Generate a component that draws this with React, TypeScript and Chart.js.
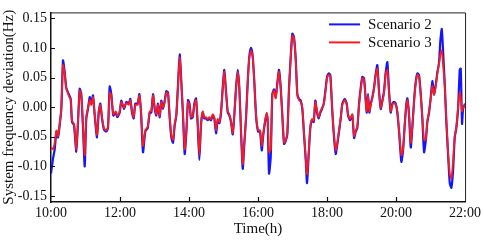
import React, { useEffect, useRef } from "react";
import { Chart, registerables } from "chart.js";

Chart.register(...registerables);

const times = [
  10.0, 10.058, 10.107, 10.159, 10.203, 10.252, 10.299, 10.348, 10.397, 10.443,
  10.513, 10.571, 10.609, 10.667, 10.733, 10.783, 10.832, 10.878, 10.928, 10.977,
  11.023, 11.072, 11.122, 11.168, 11.217, 11.267, 11.333, 11.383, 11.429, 11.478,
  11.536, 11.603, 11.652, 11.701, 11.748, 11.806, 11.875, 11.922, 11.991, 12.038,
  12.116, 12.183, 12.252, 12.299, 12.348, 12.397, 12.443, 12.513, 12.559, 12.609,
  12.667, 12.733, 12.803, 12.861, 12.907, 12.957, 13.006, 13.052, 13.101, 13.151,
  13.197, 13.246, 13.296, 13.342, 13.391, 13.441, 13.487, 13.536, 13.586, 13.632,
  13.681, 13.73, 13.777, 13.826, 13.875, 13.922, 13.971, 14.014, 14.058, 14.107,
  14.154, 14.203, 14.252, 14.299, 14.348, 14.397, 14.443, 14.493, 14.542, 14.588,
  14.638, 14.687, 14.733, 14.783, 14.832, 14.878, 14.928, 14.977, 15.023, 15.072,
  15.122, 15.168, 15.217, 15.267, 15.313, 15.362, 15.412, 15.458, 15.507, 15.557,
  15.603, 15.652, 15.701, 15.748, 15.797, 15.846, 15.893, 15.942, 16.0, 16.058,
  16.107, 16.154, 16.203, 16.252, 16.281, 16.319, 16.368, 16.414, 16.464, 16.513,
  16.559, 16.609, 16.658, 16.704, 16.754, 16.803, 16.849, 16.899, 16.948, 16.994,
  17.043, 17.093, 17.139, 17.188, 17.238, 17.284, 17.333, 17.383, 17.42, 17.47,
  17.516, 17.565, 17.614, 17.661, 17.71, 17.759, 17.806, 17.855, 17.904, 17.951,
  18.0, 18.049, 18.096, 18.154, 18.203, 18.252, 18.299, 18.348, 18.397, 18.443,
  18.513, 18.571, 18.609, 18.667, 18.733, 18.783, 18.832, 18.878, 18.928, 18.977,
  19.023, 19.072, 19.122, 19.151, 19.188, 19.226, 19.267, 19.313, 19.362, 19.412,
  19.458, 19.507, 19.557, 19.603, 19.652, 19.701, 19.748, 19.797, 19.846, 19.893,
  19.942, 19.991, 20.038, 20.087, 20.154, 20.203, 20.252, 20.299, 20.328, 20.377,
  20.426, 20.472, 20.522, 20.571, 20.617, 20.667, 20.716, 20.762, 20.812, 20.861,
  20.907, 20.957, 21.006, 21.052, 21.101, 21.151, 21.197, 21.246, 21.284, 21.325,
  21.362, 21.412, 21.458, 21.507, 21.557, 21.603, 21.652, 21.701, 21.748, 21.797,
  21.846, 21.875, 21.913, 21.942, 22.0,
];

const scenario3 = [
  -0.068, -0.071, -0.06, -0.039, -0.049, -0.028, -0.001, 0.071, 0.057, 0.031,
  0.02, 0.012, -0.023, -0.028, -0.071, -0.023, 0.028, 0.02, -0.033, -0.081,
  -0.017, -0.001, 0.012, 0.004, 0.017, -0.012, -0.047, -0.007, 0.004, -0.017,
  -0.036, -0.039, -0.033, 0.025, 0.02, -0.012, -0.007, -0.015, -0.007, 0.009,
  -0.001, 0.007, 0.004, 0.012, -0.007, -0.017, 0.004, 0.004, 0.02, -0.007,
  -0.065, -0.039, -0.033, -0.007, -0.007, 0.02, -0.001, -0.012, 0.004, -0.015,
  0.009, -0.001, 0.009, 0.025, 0.023, -0.017, -0.049, -0.055, -0.028, -0.012,
  0.036, 0.084, 0.041, -0.012, -0.071, -0.041, 0.009, 0.004, -0.017, -0.015,
  0.004, 0.012, -0.028, -0.081, -0.028, -0.007, -0.017, -0.017, -0.02, -0.017,
  -0.02, -0.012, -0.017, -0.039, -0.02, -0.025, -0.007, 0.031, 0.06, 0.025,
  -0.007, -0.012, -0.023, -0.044, -0.012, 0.031, 0.06, 0.031, -0.039, -0.096,
  -0.06, -0.017, 0.041, 0.084, 0.096, 0.084, 0.041, -0.012, -0.039, -0.039,
  -0.065, -0.044, -0.023, -0.009, -0.023, -0.076, -0.071, 0.02, 0.028, 0.015,
  0.039, 0.06, 0.031, -0.012, -0.06, -0.055, -0.044, 0.031, 0.084, 0.121,
  0.116, 0.079, 0.02, 0.012, 0.009, -0.001, -0.044, -0.087, -0.113, -0.076,
  -0.033, -0.02, -0.023, 0.009, -0.007, -0.017, -0.007, -0.001, 0.004, 0.025,
  0.049, 0.055, 0.052, -0.007, -0.049, -0.073, -0.06, -0.039, -0.017, 0.004,
  0.012, 0.004, -0.012, -0.02, -0.012, -0.049, -0.039, -0.033, 0.004, 0.031,
  0.049, 0.047, 0.009, -0.007, 0.02, -0.007, 0.004, 0.015, 0.031, 0.055,
  0.065, 0.025, -0.001, 0.009, 0.025, 0.057, 0.063, 0.025, -0.007, 0.004,
  0.007, 0.004, -0.007, -0.039, -0.081, -0.071, -0.028, 0.004, 0.012, -0.012,
  -0.06, -0.033, 0.009, 0.041, 0.055, 0.052, 0.02, -0.017, -0.055, -0.055,
  -0.023, -0.007, 0.015, 0.036, 0.02, 0.036, 0.057, 0.073, 0.089, 0.096,
  0.073, 0.036, -0.023, -0.076, -0.113, -0.12, -0.092, -0.049, -0.033, -0.001,
  0.025, 0.015, -0.007, -0.001, 0.004,
];

const scenario2 = [
  -0.112, -0.087, -0.071, -0.041, -0.051, -0.03, -0.003, 0.079, 0.059, 0.033,
  0.022, 0.014, -0.025, -0.03, -0.075, -0.025, 0.031, 0.022, -0.035, -0.1,
  -0.019, -0.003, 0.017, 0.006, 0.02, -0.014, -0.051, -0.009, 0.006, -0.019,
  -0.038, -0.041, -0.035, 0.035, 0.022, -0.014, -0.009, -0.017, -0.009, 0.011,
  -0.003, 0.009, 0.006, 0.014, -0.009, -0.019, 0.006, 0.006, 0.022, -0.009,
  -0.076, -0.041, -0.035, -0.009, -0.009, 0.022, -0.003, -0.014, 0.006, -0.017,
  0.011, -0.003, 0.011, 0.027, 0.025, -0.019, -0.051, -0.06, -0.03, -0.014,
  0.038, 0.089, 0.043, -0.014, -0.079, -0.043, 0.012, 0.006, -0.019, -0.017,
  0.006, 0.015, -0.03, -0.089, -0.03, -0.009, -0.019, -0.019, -0.022, -0.019,
  -0.022, -0.014, -0.019, -0.044, -0.022, -0.027, -0.009, 0.033, 0.063, 0.027,
  -0.009, -0.014, -0.025, -0.046, -0.014, 0.033, 0.063, 0.033, -0.041, -0.104,
  -0.062, -0.019, 0.043, 0.086, 0.1, 0.086, 0.043, -0.014, -0.041, -0.041,
  -0.073, -0.046, -0.025, -0.011, -0.025, -0.112, -0.084, 0.022, 0.03, 0.017,
  0.041, 0.063, 0.033, -0.014, -0.062, -0.057, -0.046, 0.033, 0.086, 0.124,
  0.118, 0.081, 0.022, 0.014, 0.011, -0.003, -0.046, -0.089, -0.128, -0.078,
  -0.035, -0.022, -0.025, 0.011, -0.009, -0.019, -0.009, -0.003, 0.006, 0.027,
  0.051, 0.057, 0.054, -0.009, -0.051, -0.079, -0.062, -0.041, -0.019, 0.006,
  0.014, 0.006, -0.014, -0.022, -0.014, -0.052, -0.041, -0.035, 0.006, 0.033,
  0.051, 0.049, 0.011, -0.009, 0.022, -0.009, 0.006, 0.017, 0.033, 0.057,
  0.071, 0.027, -0.003, 0.011, 0.027, 0.059, 0.076, 0.027, -0.009, 0.006,
  0.009, 0.006, -0.009, -0.041, -0.092, -0.073, -0.03, 0.006, 0.015, -0.014,
  -0.068, -0.035, 0.011, 0.043, 0.057, 0.054, 0.022, -0.019, -0.076, -0.057,
  -0.025, -0.009, 0.017, 0.044, 0.022, 0.038, 0.059, 0.075, 0.112, 0.132,
  0.096, 0.038, -0.025, -0.078, -0.128, -0.136, -0.108, -0.051, -0.035, -0.003,
  0.063, 0.065, -0.028, -0.003, 0.006,
];

const yTicks = [-0.15, -0.1, -0.05, 0.0, 0.05, 0.1, 0.15];
const xTicks = [10, 12, 14, 16, 18, 20, 22];
const seriesLabels = ["Scenario 2", "Scenario 3"];
const seriesColors = ["#1414ff", "#ff1a1a"];

const FONT = "'Liberation Serif', 'Times New Roman', serif";

const framePlugin = {
  id: "frame",
  afterDatasetsDraw(chart: any) {
    const { ctx, chartArea } = chart;
    const { left, right, top, bottom } = chartArea;
    const xs = chart.scales.x;
    const ys = chart.scales.y;
    ctx.save();
    ctx.strokeStyle = "#222";
    ctx.lineWidth = 1;
    ctx.beginPath();
    ctx.moveTo(left, top + 0.5);
    ctx.lineTo(right + 0.5, top + 0.5);
    ctx.lineTo(right + 0.5, bottom);
    ctx.stroke();
    ctx.lineWidth = 1.2;
    ctx.strokeStyle = "#111";
    ctx.beginPath();
    ys.ticks.forEach((t: any) => {
      const py = Math.round(ys.getPixelForValue(t.value)) + 0.5;
      ctx.moveTo(left, py);
      ctx.lineTo(left + 4, py);
    });
    xs.ticks.forEach((t: any) => {
      const px = Math.round(xs.getPixelForValue(t.value)) + 0.5;
      if (px <= left + 1 || px >= right - 1) return;
      ctx.moveTo(px, bottom);
      ctx.lineTo(px, bottom - 5);
    });
    ctx.stroke();

    // legend inside the plot area
    const lx0 = right - 136;
    const lx1 = right - 105;
    const tx = right - 97;
    const rows = [top + 12, top + 30];
    ctx.font = `15px ${FONT}`;
    ctx.textBaseline = "middle";
    ctx.textAlign = "left";
    chart.data.datasets.forEach((ds: any, i: number) => {
      ctx.strokeStyle = ds.borderColor;
      ctx.lineWidth = 2;
      ctx.beginPath();
      ctx.moveTo(lx0, rows[i]);
      ctx.lineTo(lx1, rows[i]);
      ctx.stroke();
      ctx.fillStyle = "#111";
      ctx.fillText(ds.label, tx, rows[i] + 1);
    });
    ctx.restore();
  },
};

export default function App() {
  const ref = useRef<HTMLCanvasElement | null>(null);
  useEffect(() => {
    document.body.style.margin = "0";
    if (!ref.current) return;
    const chart = new Chart(ref.current, {
      type: "line",
      data: {
        datasets: [
          {
            label: seriesLabels[0],
            data: times.map((t, i) => ({ x: t, y: scenario2[i] })),
            borderColor: seriesColors[0],
            borderWidth: 2.2,
            pointRadius: 0,
            tension: 0.2,
            order: 1,
          },
          {
            label: seriesLabels[1],
            data: times.map((t, i) => ({ x: t, y: scenario3[i] })),
            borderColor: seriesColors[1],
            borderWidth: 1.8,
            pointRadius: 0,
            tension: 0.2,
            order: 0,
          },
        ],
      },
      options: {
        animation: false,
        responsive: false,
        maintainAspectRatio: false,
        layout: { padding: { top: 3, right: 18, left: 0, bottom: 0 } },
        plugins: { legend: { display: false }, tooltip: { enabled: false } },
        scales: {
          x: {
            type: "linear",
            min: 10,
            max: 22,
            afterBuildTicks: (s: any) => {
              s.ticks = xTicks.map((v) => ({ value: v }));
            },
            afterFit: (s: any) => {
              s.height = 38;
            },
            grid: { display: false, drawTicks: false },
            border: { display: true, color: "#111", width: 1.5 },
            ticks: {
              color: "#111",
              font: { family: FONT, size: 14 },
              padding: 3,
              maxRotation: 0,
              callback: (v: any) => `${v}:00`,
            },
            title: {
              display: true,
              text: "Time(h)",
              color: "#111",
              font: { family: FONT, size: 15 },
              padding: { top: 0, bottom: 2 },
            },
          },
          y: {
            min: -0.16,
            max: 0.16,
            afterBuildTicks: (s: any) => {
              s.ticks = yTicks.map((v) => ({ value: v }));
            },
            afterFit: (s: any) => {
              s.width = 51;
            },
            grid: { display: false, drawTicks: false },
            border: { display: true, color: "#111", width: 1.5 },
            ticks: {
              color: "#111",
              font: { family: FONT, size: 14 },
              padding: 4,
              callback: (v: any) => Number(v).toFixed(2),
            },
            title: {
              display: true,
              text: "System frequency deviation(Hz)",
              color: "#111",
              font: { family: FONT, size: 15 },
              padding: { top: 0, bottom: 0 },
            },
          },
        },
      },
      plugins: [framePlugin],
    });
    return () => chart.destroy();
  }, []);
  return (
    <div style={{ width: 484, height: 240 }}>
      <canvas ref={ref} width={484} height={240} style={{ width: 484, height: 240, display: "block" }} />
    </div>
  );
}
